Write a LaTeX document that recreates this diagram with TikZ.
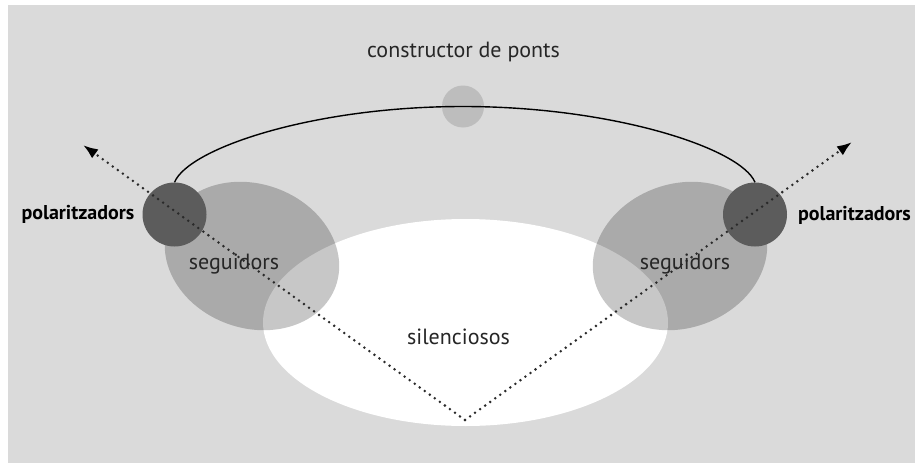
\documentclass[tikz,border=0pt]{standalone}
\usepackage{fontspec}
\setmainfont{PT Sans}
\usetikzlibrary{arrows.meta,shapes.geometric}
\definecolor{bggray}{HTML}{DADADA}
\definecolor{poldark}{HTML}{5C5C5C}
\definecolor{pontgray}{HTML}{BDBDBD}
\definecolor{txtgray}{HTML}{262626}
\definecolor{dotgray}{HTML}{2A2A2A}
\begin{document}
\begin{tikzpicture}[x=1pt,y=-1pt]
	\tikzstyle{pol}=[shape=circle,fill=poldark,minimum size=64pt,inner sep=0pt]
	\tikzstyle{seg}=[shape=ellipse,fill=black,fill opacity=0.22,minimum width=178pt,minimum height=144pt,inner sep=0pt]
	\tikzstyle{sil}=[shape=ellipse,fill=white,minimum width=405pt,minimum height=207pt,inner sep=0pt]
	\tikzstyle{pont}=[shape=circle,fill=pontgray,minimum size=42pt,inner sep=0pt]
	\tikzstyle{lbl}=[text=txtgray,anchor=base,inner sep=0pt,font=\fontsize{22}{26}\selectfont]
	\tikzstyle{blbl}=[lbl,text=black,font=\fontsize{20}{24}\selectfont\bfseries]
	\tikzstyle{dots}=[dotgray,line width=2.8pt,line cap=round,dash pattern=on 0pt off 6.2pt,-{Latex[length=15pt,width=11pt,black]}]

	\useasboundingbox (0,0) rectangle (915,463);
	\fill[bggray] (8,5) rectangle (915,463);

	%%%
	\node (sil) at (465.5,322.5) [sil] {};
	\node (lseg) at (252,256) [seg, rotate=-20] {};
	\node (rseg) at (680,256) [seg, rotate=20] {};

	%%%
	\node (lpol) at (174.5,214.5) [pol] {};
	\node (rpol) at (755,214.5) [pol] {};
	\node (pont) at (463,106.5) [pont] {};

	\draw[line width=1.4pt] (lpol.north) .. controls +(14,-34) and +(-150,0) .. (pont.center)
		.. controls +(150,0) and +(-14,-34) .. (rpol.north);

	%%%
	\coordinate (vtx) at (465,420);
	\coordinate (ltip) at (83,145);
	\coordinate (rtip) at (852,142);
	\draw[dots] (vtx) -- (ltip);
	\draw[dots] (vtx) -- (rtip);

	%%%
	\node (ponttxt) at (463.5,57) [lbl] {constructor de ponts};
	\node (lpoltxt) at (78,219) [blbl] {polaritzadors};
	\node (rpoltxt) at (854.5,220) [blbl] {polaritzadors};
	\node (lsegtxt) at (234,269) [lbl] {seguidors};
	\node (rsegtxt) at (685,269) [lbl] {seguidors};
	\node (siltxt) at (458.5,344) [lbl] {silenciosos};
\end{tikzpicture}
\end{document}
